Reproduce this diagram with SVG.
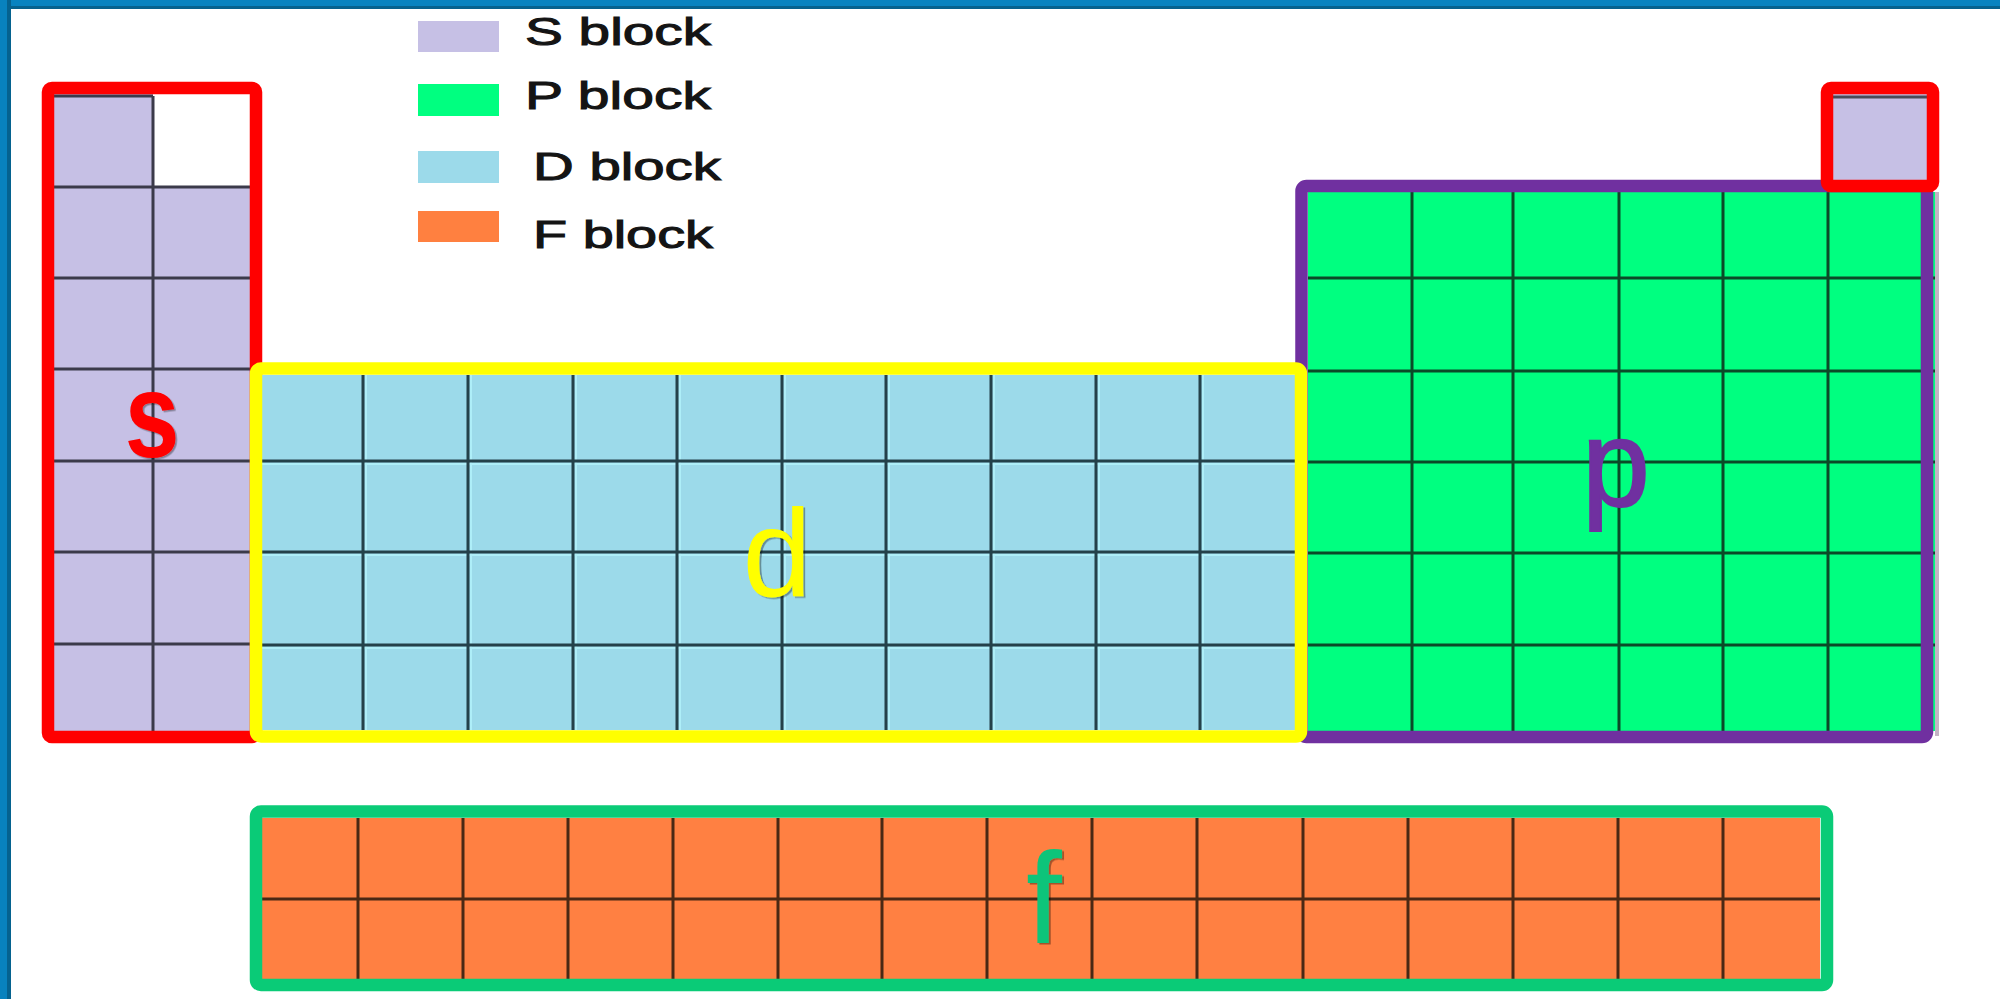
<svg xmlns="http://www.w3.org/2000/svg" width="2000" height="999" viewBox="0 0 2000 999">
<defs>
<style>
.lg{font-family:"Liberation Sans",Arial,sans-serif;font-size:38px;fill:#141414;stroke:#141414;stroke-width:1}
.big{font-family:"Liberation Sans",Arial,sans-serif;text-anchor:middle}
.gs{stroke:#3b3a4a;stroke-width:3;fill:none}
.gd{stroke:#24414a;stroke-width:3;fill:none}
.gp{stroke:#0b4a28;stroke-width:3;fill:none}
.gf{stroke:#4a2814;stroke-width:3;fill:none}
.hd{stroke:#AEEEF8;stroke-width:2;fill:none}
.bd{fill:none;stroke-width:12.5;stroke-linejoin:round}
</style>
<filter id="bev" x="-20%" y="-20%" width="140%" height="140%">
<feDropShadow dx="2" dy="1.5" stdDeviation="0.6" flood-color="#000" flood-opacity="0.35"/>
</filter>
</defs>
<rect x="0" y="0" width="2000" height="999" fill="#ffffff"/>
<g id="frame">
<rect x="0" y="0" width="2000" height="9" fill="#0883C0"/>
<rect x="0" y="6" width="2000" height="3" fill="#06628E"/>
<rect x="0" y="0" width="11" height="999" fill="#0882BE"/>
<rect x="7" y="0" width="4" height="999" fill="#05628F"/>
</g>
<g id="legend">
<rect x="418" y="21" width="81" height="31" fill="#C6C0E5"/>
<text class="lg" x="525" y="45" textLength="186" lengthAdjust="spacingAndGlyphs">S block</text>
<rect x="418" y="84" width="81" height="32" fill="#00FF80"/>
<text class="lg" x="525" y="109" textLength="186" lengthAdjust="spacingAndGlyphs">P block</text>
<rect x="418" y="151" width="81" height="32" fill="#9CDAEA"/>
<text class="lg" x="533" y="180" textLength="188" lengthAdjust="spacingAndGlyphs">D block</text>
<rect x="418" y="211" width="81" height="31" fill="#FF8040"/>
<text class="lg" x="533" y="248" textLength="180" lengthAdjust="spacingAndGlyphs">F block</text>
</g>
<g id="s-block">
<rect x="54" y="94" width="99" height="637" fill="#C6C0E5"/>
<rect x="153" y="187" width="97" height="544" fill="#C6C0E5"/>
<line class="gs" x1="54" y1="96" x2="153" y2="96" stroke="#777"/>
<path class="gs" d="M153 96V731M54 187H250M54 278H250M54 369H250M54 461H250M54 552H250M54 644H250"/>
<rect class="bd" x="48" y="88" width="208" height="649" rx="4" stroke="#FF0000"/>
<text class="big" transform="translate(152,457) scale(0.82,1)" font-size="120" font-weight="bold" fill="#FF0000" filter="url(#bev)">s</text>
</g>
<g id="p-block">
<rect x="1308" y="192" width="627" height="539" fill="#00FF80"/>
<rect x="1935" y="192" width="4" height="544" fill="#C4B4C4"/>
<path class="gp" d="M1412 192V731M1513 192V731M1619 192V731M1723 192V731M1828 192V731M1308 278H1935M1308 371H1935M1308 462H1935M1308 553H1935M1308 645H1935"/>
<rect class="bd" x="1301.5" y="186" width="625.5" height="551" rx="5" stroke="#7030A0"/>
<text class="big" x="1616" y="506" font-size="122" fill="#7030A0" stroke="#7030A0" stroke-width="2">p</text>
</g>
<g id="d-block">
<rect x="262" y="375" width="1033" height="355" fill="#9CDAEA"/>
<path class="hd" d="M366 375V730M471 375V730M576 375V730M680 375V730M785 375V730M889 375V730M994 375V730M1099 375V730M1203 375V730M262 464H1295M262 555H1295M262 648H1295"/>
<path class="gd" d="M363 375V730M468 375V730M573 375V730M677 375V730M782 375V730M886 375V730M991 375V730M1096 375V730M1200 375V730M262 461H1295M262 552H1295M262 645H1295"/>
<rect class="bd" x="256" y="368.5" width="1045" height="368" rx="5" stroke="#FFFF00"/>
<text class="big" x="777" y="596" font-size="124" fill="#FFFF00" filter="url(#bev)">d</text>
</g>
<g id="he-cell">
<rect x="1833" y="94" width="94" height="86" fill="#C6C0E5"/>
<line x1="1833" y1="97" x2="1927" y2="97" stroke="#4a4a58" stroke-width="3"/>
<rect class="bd" x="1827" y="88" width="106" height="98" rx="4" stroke="#FF0000"/>
</g>
<g id="f-block">
<rect x="262" y="818" width="1558" height="161" fill="#FF8042"/>
<path class="gf" d="M358 818V979M463 818V979M568 818V979M673 818V979M778 818V979M882 818V979M987 818V979M1092 818V979M1197 818V979M1303 818V979M1408 818V979M1513 818V979M1618 818V979M1723 818V979M262 899H1820"/>
<rect class="bd" x="256" y="811.5" width="1571" height="173.5" rx="5" stroke="#0ACB77"/>
<text class="big" x="1044" y="943" font-size="129" fill="#10C47A" filter="url(#bev)">f</text>
</g>
</svg>
